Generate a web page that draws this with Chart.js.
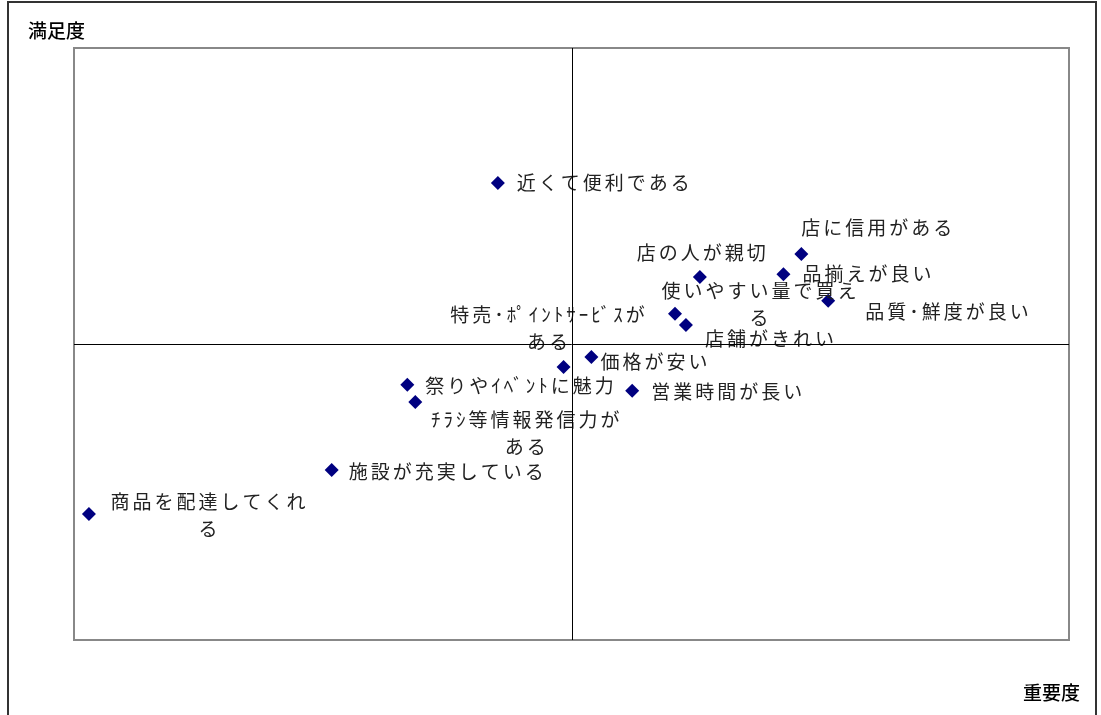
<!DOCTYPE html>
<html lang="ja">
<head>
<meta charset="utf-8">
<title>重要度・満足度</title>
<script src="https://cdn.jsdelivr.net/npm/chart.js@4.4.1/dist/chart.umd.min.js"></script>
<style>
    html, body { margin: 0; padding: 0; background: #fff; }
    #wrap { width: 1101px; height: 715px; position: relative; }
</style>
</head>
<body>
<div id="wrap"><canvas id="chartMatrix"></canvas></div>
<script>
// 項目ごとの重要度(x)・満足度(y)
const items = [
    ['近くて便利である'],
    ['店に信用がある'],
    ['店の人が親切'],
    ['品揃えが良い'],
    ['品質･鮮度が良い'],
    ['使いやすい量で買え', 'る'],
    ['店舗がきれい'],
    ['価格が安い'],
    ['特売･ﾎﾟｲﾝﾄｻｰﾋﾞｽが', 'ある'],
    ['営業時間が長い'],
    ['祭りやｲﾍﾞﾝﾄに魅力'],
    ['ﾁﾗｼ等情報発信力が', 'ある'],
    ['施設が充実している'],
    ['商品を配達してくれ', 'る']
];
const importance = [42.6, 73.1, 62.9, 71.3, 75.8, 60.4, 61.5, 52.0, 49.2, 56.1, 33.5, 34.3, 25.9, 1.5];
const satisfaction = [77.2, 65.2, 61.3, 61.8, 57.3, 55.1, 53.2, 47.8, 46.1, 42.1, 43.1, 40.2, 28.7, 21.3];
const axisMin = 0, axisMax = 100, axisMid = 50;

// ラベルの位置（点からのずれ）と揃え
const labelPlace = [
    [19, 0, 'left'], [0, -26, 'left'], [-63, -24, 'left'], [19, 0, 'left'],
    [37, 11, 'left'], [84, -23, 'center'], [19, 14, 'left'], [9, 5, 'left'],
    [-16, -52, 'center'], [19, 1, 'left'], [18, 1, 'left'], [110, 18, 'center'],
    [17, 2, 'left'], [119, -12, 'center']
];

const points = importance.map((x, i) => ({ x: x, y: satisfaction[i] }));

const matrixDecor = {
    id: 'matrixDecor',
    beforeDatasetsDraw(chart) {
        const ctx = chart.ctx, a = chart.chartArea;
        ctx.save();
        // 外枠
        ctx.strokeStyle = '#333';
        ctx.lineWidth = 2;
        ctx.strokeRect(8, 2, 1088, 730);
        // プロットエリア枠
        ctx.strokeStyle = '#888';
        ctx.lineWidth = 2;
        ctx.strokeRect(a.left, a.top, a.right - a.left, a.bottom - a.top);
        // 軸タイトル
        ctx.fillStyle = '#000';
        ctx.font = '500 19px "Noto Sans CJK JP"';
        ctx.textBaseline = 'middle';
        ctx.textAlign = 'left';
        ctx.fillText('満足度', 28, 31);
        ctx.textAlign = 'right';
        ctx.fillText('重要度', 1080, 693);
        ctx.restore();
    },
    afterDatasetsDraw(chart) {
        const ctx = chart.ctx, a = chart.chartArea;
        const meta = chart.getDatasetMeta(0);
        ctx.save();
        ctx.fillStyle = '#222';
        ctx.font = '19px "Noto Sans CJK JP"';
        ctx.letterSpacing = '3px';
        ctx.textBaseline = 'middle';
        meta.data.forEach((pt, i) => {
            const [dx, dy, align] = labelPlace[i];
            ctx.textAlign = align;
            items[i].forEach((line, k) => {
                const shift = align === 'center' ? 1.5 : 0;
                ctx.fillText(line, pt.x + dx + shift, pt.y + dy + k * 27);
            });
        });
        ctx.letterSpacing = '0px';
        // 中心線
        const sx = chart.scales.x, sy = chart.scales.y;
        const cx = Math.round(sx.getPixelForValue(axisMid)) + 0.5;
        const cy = Math.round(sy.getPixelForValue(axisMid)) + 0.5;
        ctx.strokeStyle = '#000';
        ctx.lineWidth = 1;
        ctx.beginPath();
        ctx.moveTo(cx, a.top);
        ctx.lineTo(cx, a.bottom);
        ctx.moveTo(a.left, cy);
        ctx.lineTo(a.right, cy);
        ctx.stroke();
        ctx.restore();
    }
};

new Chart(document.getElementById('chartMatrix'), {
    type: 'scatter',
    data: {
        datasets: [{
            data: points,
            pointStyle: 'rectRot',
            pointRadius: 7,
            pointHoverRadius: 7,
            backgroundColor: '#000080',
            borderColor: '#000080',
            borderWidth: 0
        }]
    },
    options: {
        responsive: true,
        maintainAspectRatio: false,
        animation: false,
        events: [],
        layout: { padding: { left: 74, top: 48, right: 32, bottom: 75 } },
        plugins: { legend: { display: false }, tooltip: { enabled: false } },
        scales: {
            x: { type: 'linear', display: false, min: axisMin, max: axisMax },
            y: { type: 'linear', display: false, min: axisMin, max: axisMax }
        }
    },
    plugins: [matrixDecor]
});
</script>
</body>
</html>
